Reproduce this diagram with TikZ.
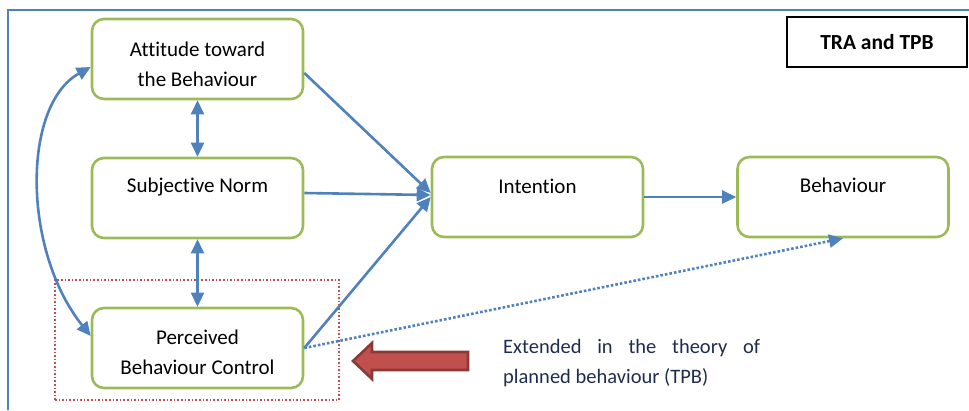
\documentclass[tikz,border=0pt]{standalone}
\usepackage{fontspec}
\setmainfont{Carlito}[Ligatures=NoCommon]
\usetikzlibrary{arrows.meta}
\definecolor{frameblue}{HTML}{4F81BD}
\definecolor{boxgreen}{HTML}{9BBB59}
\definecolor{tpbred}{HTML}{C0504D}
\definecolor{tpbdark}{HTML}{8C3836}
\definecolor{notetext}{HTML}{1F2D4D}
\begin{document}
\begin{tikzpicture}[x=1pt,y=-1pt,
  concept/.style={draw=boxgreen,line width=2.6pt,rounded corners=12pt,
    minimum width=211pt,minimum height=80pt,inner sep=0pt},
  label/.style={font=\fontsize{21}{30}\selectfont,align=center,inner sep=0pt},
  flow/.style={draw=frameblue,line width=2.6pt,-{Triangle[length=14pt,width=13pt]}},
  both/.style={draw=frameblue,line width=2.6pt,{Triangle[length=14pt,width=13pt]}-{Triangle[length=14pt,width=13pt]}},
]
\useasboundingbox (0,0) rectangle (969,410);

% outer frame (only the top and left sides fall inside the page)
\draw[frameblue,line width=2.6pt] (8,410) -- (8,10) -- (969,10);

% title box
\node[draw=black,line width=2pt,minimum width=180pt,minimum height=50pt,
  font=\fontsize{21.5}{24}\selectfont\bfseries] (title) at (877,42) {TRA and TPB};

% concept boxes
\node[concept] (a) at (197.5,59) {};
\node[concept] (s) at (197.5,198) {};
\node[concept] (p) at (197.5,348) {};
\node[concept] (i) at (537.5,197) {};
\node[concept] (b) at (843,197) {};

% box captions
\node[label] (at) at (197.5,64) {Attitude toward\\the Behaviour};
\node[label] (st) at (197.5,187) {Subjective Norm};
\node[label] (pt) at (197.5,352) {Perceived\\Behaviour Control};
\node[label] (it) at (537.5,186) {Intention};
\node[label] (bt) at (843,185) {Behaviour};

% TPB extension marker
\node[draw=tpbred,dotted,line width=1.6pt,minimum width=284pt,minimum height=120pt,
  inner sep=0pt] (ext) at (197,340) {};

% connectors
\draw[flow] ([yshift=-14pt]a.east) -- ([yshift=4pt]i.west);
\draw[flow] ([yshift=5pt]s.east) -- ([yshift=2pt]i.west);
\draw[flow] (p.east) -- (i.west);
\draw[flow] (i.east) -- (b.west);
\draw[both] (a.south) -- (s.north);
\draw[both] (s.south) -- (p.north);
\draw[both] ([yshift=12pt]p.west) .. controls (22,250) and (22,105) .. ([yshift=-8pt]a.west);
\draw[flow,dotted,line cap=butt] (p.east) -- (b.south);

% block arrow pointing at the extension
\fill[tpbred,draw=tpbdark,line width=2.6pt,line join=miter]
  (468,352) -- (372,352) -- (372,343) -- (353,361) -- (372,379) -- (372,370) -- (468,370) -- cycle;

% note
\node[anchor=base west,inner sep=0pt,text=notetext] (note) at (503,353)
  {\parbox[t]{257pt}{\fontsize{20.5}{30}\selectfont Extended in the theory of\linebreak planned behaviour (TPB)}};
\end{tikzpicture}
\end{document}
